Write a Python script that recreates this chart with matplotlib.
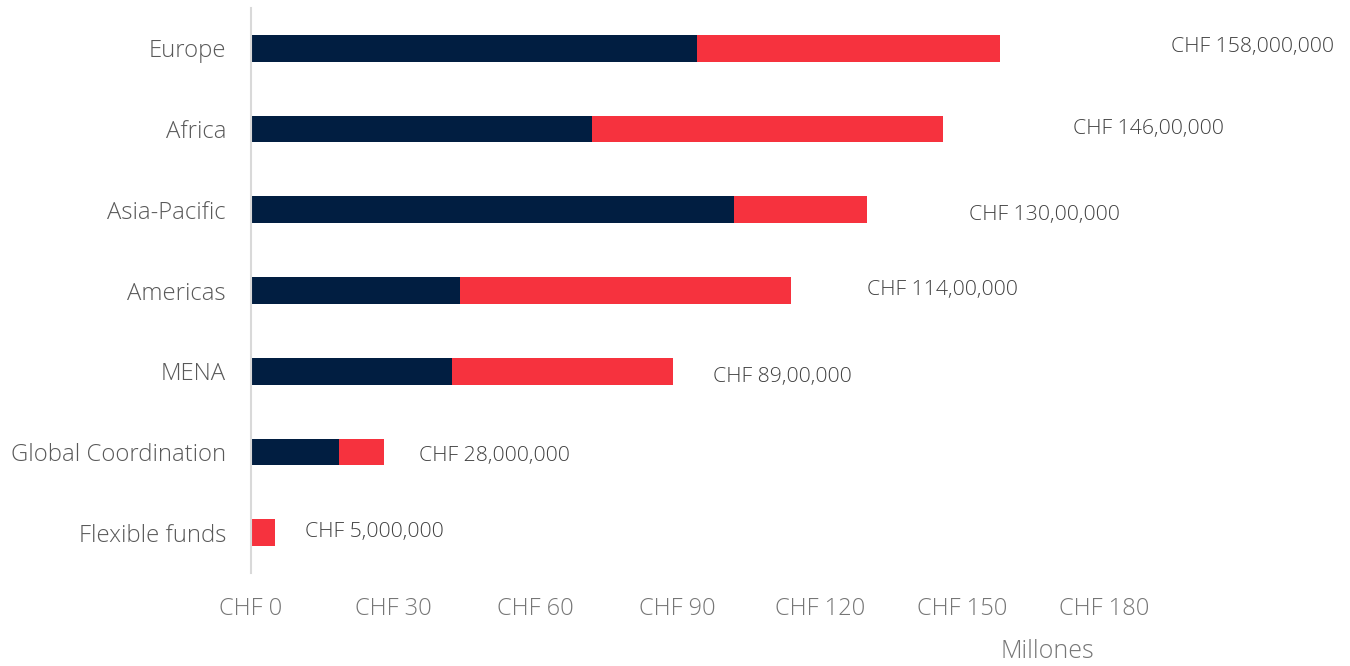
import matplotlib
matplotlib.use("Agg")
import matplotlib.pyplot as plt

plt.rcParams['font.family'] = ['Open Sans', 'DejaVu Sans']

# Data (millions of CHF)
regions = ['Europe', 'Africa', 'Asia-Pacific', 'Americas', 'MENA',
           'Global Coordination', 'Flexible funds']
dark_part = [94, 72, 102, 44, 42.5, 18.5, 0]
red_part = [64, 74, 28, 70, 46.5, 9.5, 5]
total_labels = ['CHF 158,000,000', 'CHF 146,00,000', 'CHF 130,00,000',
                'CHF 114,00,000', 'CHF 89,00,000', 'CHF 28,000,000',
                'CHF 5,000,000']
xticks = [0, 30, 60, 90, 120, 150, 180]

# label placement (x in data units, y offset in rows)
label_x = [194, 173.5, 151.5, 130, 97.5, 35.5, 11.3]
label_dy = [-0.02, 0, 0.07, 0, 0.07, 0.05, -0.01]

navy = '#011E41'
red = '#F6323E'

fig = plt.figure(figsize=(13.5, 6.66), dpi=100)
ax = fig.add_axes([251/1350, 1 - 573/666, 948/1350, 565/666])

y = list(range(len(regions)))
ax.barh(y, dark_part, height=0.33, color=navy)
ax.barh(y, red_part, left=dark_part, height=0.33, color=red)

for i, lab in enumerate(total_labels):
    ax.text(label_x[i], i + label_dy[i], lab, va='center', ha='left',
            fontsize=15.3, color='#404040', fontweight='light', clip_on=False)

ax.set_xlim(0, 200)
ax.set_ylim(len(regions) - 0.5, -0.5)
ax.set_yticks(y)
ax.set_yticklabels(regions, fontsize=17.2, color='#595959', fontweight='light')
ax.set_xticks(xticks)
ax.set_xticklabels(['CHF ' + str(t) for t in xticks], fontsize=17,
                   color='#767676', fontweight='light')
ax.tick_params(axis='both', length=0)
ax.tick_params(axis='x', pad=17.5)
ax.tick_params(axis='y', pad=18)

for s in ['top', 'right', 'bottom']:
    ax.spines[s].set_visible(False)
ax.spines['left'].set_color('#D9D9D9')
ax.spines['left'].set_linewidth(1.5)

fig.text(1047/1350, 1 - 651/666, 'Millones', ha='center', va='center',
         fontsize=18, color='#767676', fontweight='light')

fig.savefig('out.png', dpi=100)
